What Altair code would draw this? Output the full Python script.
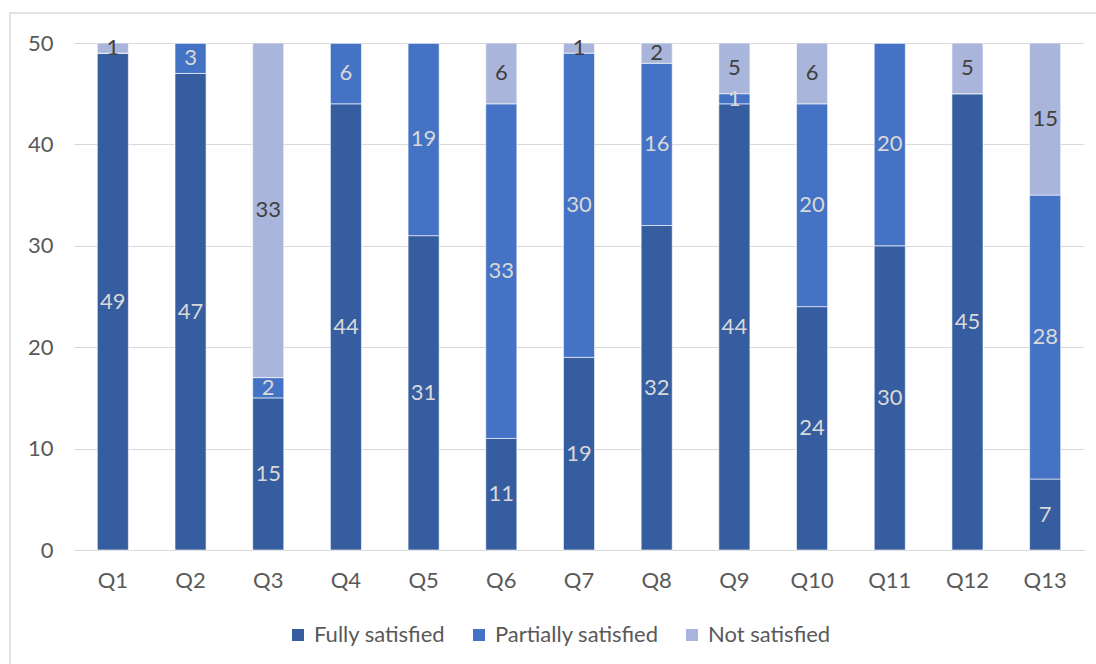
import altair as alt
import pandas as pd

questions = [f"Q{i}" for i in range(1, 14)]
fully = [49, 47, 15, 44, 31, 11, 19, 32, 44, 24, 30, 45, 7]
partially = [0, 3, 2, 6, 19, 33, 30, 16, 1, 20, 20, 0, 28]
not_sat = [1, 0, 33, 0, 0, 6, 1, 2, 5, 6, 0, 5, 15]

series = ["Fully satisfied", "Partially satisfied", "Not satisfied"]
colors = ["#355D9F", "#4472C4", "#A9B5DA"]
label_colors = ["#D9D9D9", "#D9D9D9", "#404040"]

rows = []
for name, vals in zip(series, [fully, partially, not_sat]):
    for q, v in zip(questions, vals):
        rows.append({"q": q, "series": name, "value": v, "order": series.index(name)})
df = pd.DataFrame(rows)

FONT = "Lato"
FS = 22
W, H = 1010, 507
PAD_L, PAD_T = 74, 43

base = alt.Chart(df).transform_stack(
    stack="value", groupby=["q"], as_=["y0", "y1"], sort=[alt.SortField("order")]
)

x_enc = alt.X("q:N", sort=questions, title=None,
              scale=alt.Scale(paddingInner=0.6, paddingOuter=0.3),
              axis=alt.Axis(labelAngle=0, labelFontSize=FS, labelColor="#595959",
                            labelFont=FONT, labelPadding=20, ticks=False,
                            domain=True, domainColor="#D9D9D9", grid=False))

bars = base.mark_bar(stroke="white", strokeWidth=0.6).encode(
    x=x_enc,
    y=alt.Y("y0:Q", title=None,
            scale=alt.Scale(domain=[0, 50]),
            axis=alt.Axis(values=[0, 10, 20, 30, 40, 50], labelFontSize=FS,
                          labelColor="#595959", labelFont=FONT, labelPadding=21,
                          ticks=False, domain=False, grid=True, gridColor="#D9D9D9",
                          gridWidth=1)),
    y2="y1:Q",
    color=alt.Color("series:N", sort=series,
                    scale=alt.Scale(domain=series, range=colors),
                    legend=alt.Legend(title=None, orient="none", direction="horizontal",
                                      legendX=213, legendY=581,
                                      symbolType="square", symbolSize=144,
                                      symbolStrokeWidth=0,
                                      labelFontSize=FS, labelFont=FONT,
                                      labelColor="#595959", columnPadding=22,
                                      labelLimit=400, labelOffset=5)),
    order=alt.Order("order:Q"),
)

labels = base.transform_filter("datum.value > 0").transform_calculate(
    mid="(datum.y0 + datum.y1) / 2"
).mark_text(fontSize=FS, font=FONT, baseline="middle").encode(
    x=alt.X("q:N", sort=questions),
    y=alt.Y("mid:Q"),
    text=alt.Text("value:Q"),
    color=alt.Color("series:N", scale=alt.Scale(domain=series, range=label_colors),
                    legend=None),
)

frame = alt.Chart(pd.DataFrame({"a": [0]})).mark_rect(
    fill=None, stroke="#D9D9D9", strokeWidth=1.5, clip=False
).encode(
    x=alt.value(10 - PAD_L), x2=alt.value(1100 - PAD_L),
    y=alt.value(13 - PAD_T), y2=alt.value(700 - PAD_T),
)

chart = alt.layer(frame, bars, labels).resolve_scale(color="independent").properties(
    width=W, height=H,
    autosize=alt.AutoSizeParams(type="none"),
    padding={"left": PAD_L, "top": PAD_T, "right": 1096 - PAD_L - W, "bottom": 664 - PAD_T - H},
    background="white",
).configure_view(stroke=None)

chart.save("out.html", embed_options={"renderer": "svg", "actions": False})
